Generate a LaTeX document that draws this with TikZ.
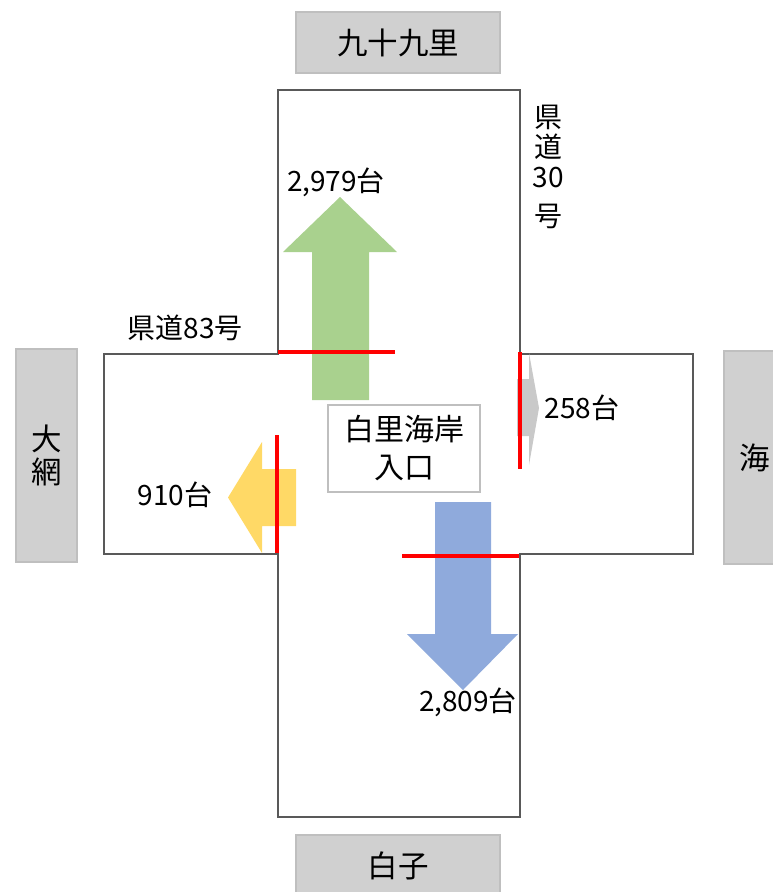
\documentclass[tikz,border=0pt]{standalone}
\usepackage{fontspec}
\setmainfont{Noto Sans CJK JP}
\definecolor{roadline}{HTML}{595959}
\definecolor{placefill}{HTML}{D0D0D0}
\definecolor{placeedge}{HTML}{BFBFBF}
\definecolor{greenarrow}{HTML}{A9D18E}
\definecolor{yellowarrow}{HTML}{FFD966}
\definecolor{bluearrow}{HTML}{8FAADC}
\definecolor{grayarrow}{HTML}{C9C9C9}
\begin{document}
\begin{tikzpicture}[x=1pt,y=-1pt,
  road/.style={draw=roadline,line width=2.2pt},
  place/.style={fill=placefill,draw=placeedge,line width=2pt,inner sep=0pt,align=center,font=\fontsize{30.5}{33}\selectfont},
  centerbox/.style={fill=white,draw=placeedge,line width=1.6pt,inner sep=0pt,align=center,font=\fontsize{30}{38}\selectfont},
  cutline/.style={draw=red,line width=4pt},
  lbl/.style={inner sep=0pt,align=center,font=\fontsize{28}{30}\selectfont}]
\useasboundingbox (0,0) rectangle (772,892);
% road cross outline
\draw[road] (278,90) -- (520,90) -- (520,354) -- (693,354) -- (693,554) -- (520,554)
  -- (520,817) -- (278,817) -- (278,554) -- (104,554) -- (104,354) -- (278,354) -- cycle;
% destination boxes
\node[place,minimum width=204pt,minimum height=61pt] (kujukuri) at (398,42.5) {九十九里};
\node[place,minimum width=61pt,minimum height=213pt] (oami) at (46.5,455.5) {大\\網};
\node[place,minimum width=62pt,minimum height=213pt] (umi) at (755,457.5) {海};
\node[place,minimum width=204pt,minimum height=61pt] (shirako) at (398,865.5) {白子};
% center box
\node[centerbox,minimum width=152pt,minimum height=87pt] (entrance) at (404,448.5) {白里海岸\\入口};
% arrows
\fill[greenarrow] (312,400) -- (312,252) -- (283,252) -- (340,197) -- (397,252) -- (369,252) -- (369,400) -- cycle;
\fill[yellowarrow] (296,469) -- (262,469) -- (262,442) -- (228,497.5) -- (262,553) -- (262,526) -- (296,526) -- cycle;
\fill[bluearrow] (435,502) -- (491,502) -- (491,634) -- (518,634) -- (463,690) -- (407,634) -- (435,634) -- cycle;
\fill[grayarrow] (517,379) -- (529,379) -- (529,353) -- (539,408) -- (529,465) -- (529,436) -- (517,436) -- cycle;
% counting lines
\draw[cutline] (278,352) -- (395,352);
\draw[cutline] (277,435) -- (277,553);
\draw[cutline] (520,352) -- (520,469);
\draw[cutline] (402,556) -- (519,556);
% labels
\node[lbl] (n2979) at (336,182) {2,979台};
\node[lbl] (r30) at (548,167) {県\\道\\30\\[9pt]号};
\node[lbl] (r83) at (185,328) {県道83号};
\node[lbl] (n258) at (582,408) {258台};
\node[lbl] (n910) at (175,495) {910台};
\node[lbl] (n2809) at (468,702) {2,809台};
\end{tikzpicture}
\end{document}
